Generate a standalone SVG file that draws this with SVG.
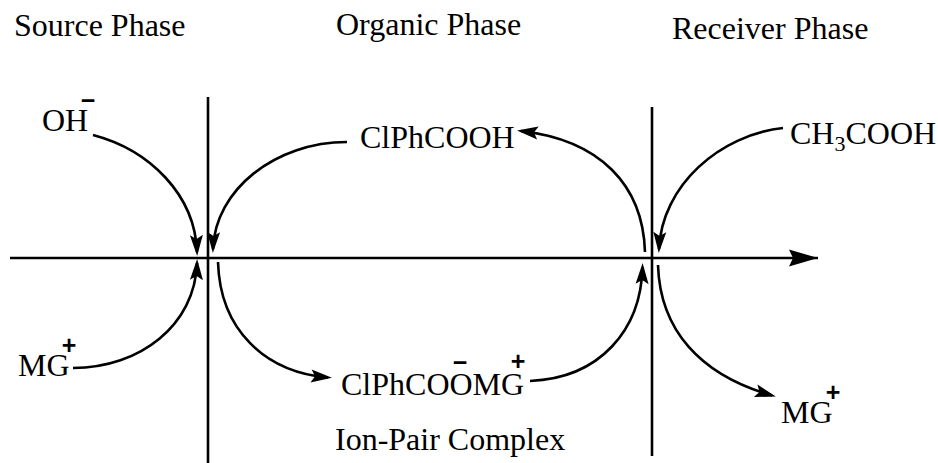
<svg xmlns="http://www.w3.org/2000/svg" width="938" height="463" viewBox="0 0 938 463">
<style>
text{font-family:"Liberation Serif","Times New Roman",serif;font-size:32px;fill:#000}
.chg{font-family:"Liberation Sans",Arial,sans-serif;font-weight:bold;font-size:25px;text-anchor:middle}
.ln{stroke:#000;stroke-width:2.6;fill:none}
.cv{stroke:#000;stroke-width:2.6;fill:none;marker-end:url(#ah)}
</style>
<defs>
<marker id="ah" markerUnits="userSpaceOnUse" markerWidth="24" markerHeight="16" viewBox="0 -8 22 16" refX="17" refY="0" orient="auto">
<path d="M0,-6.5 L21,0 L0,6.5 L4,0 Z" fill="#000"/>
</marker>
<marker id="ahbig" markerUnits="userSpaceOnUse" markerWidth="32" markerHeight="20" viewBox="0 -10 30 20" refX="29" refY="0" orient="auto">
<path d="M0,-8.5 L29,0 L0,8.5 L4,0 Z" fill="#000"/>
</marker>
</defs>
<g id="titles">
<text x="14" y="36">Source Phase</text>
<text x="336" y="35">Organic Phase</text>
<text x="672" y="39">Receiver Phase</text>
</g>
<g id="axes">
<line class="ln" x1="208" y1="97" x2="208" y2="463"/>
<line class="ln" x1="652" y1="107" x2="652" y2="456"/>
<path class="ln" d="M10,258 L818,258" marker-end="url(#ahbig)"/>
</g>
<g id="connectors">
<path class="cv" d="M93,135 C150,150 195,195 197,252"/>
<path class="cv" d="M73,368 C140,368 195,325 197,263"/>
<path class="cv" d="M347,142 C275,142 215,190 213,249"/>
<path class="cv" d="M645,252 C643,185 600,140 521,131"/>
<path class="cv" d="M218,262 C220,330 265,372 328,377.5"/>
<path class="cv" d="M530,381 C600,378 641,330 642.5,267"/>
<path class="cv" d="M783,128 C720,135 662,185 659,249"/>
<path class="cv" d="M658,265 C660,330 700,375 772,395.5"/>
</g>
<g id="node-oh">
<text x="42" y="131">OH</text>
<text class="chg" x="88" y="109">−</text>
</g>
<g id="node-mg-source">
<text x="18" y="376">MG</text>
<text class="chg" x="69" y="354">+</text>
</g>
<g id="node-clphcooh">
<text x="360" y="148">ClPhCOOH</text>
</g>
<g id="node-ionpair">
<text x="341" y="395">ClPhCOOMG</text>
<text class="chg" x="460" y="371">−</text>
<text class="chg" x="518" y="370">+</text>
<text x="335" y="450">Ion-Pair Complex</text>
</g>
<g id="node-ch3cooh">
<text x="790" y="144">CH<tspan font-size="22" dy="6.5">3</tspan><tspan dy="-6.5">COOH</tspan></text>
</g>
<g id="node-mg-receiver">
<text x="781" y="423">MG</text>
<text class="chg" x="833" y="401">+</text>
</g>
</svg>
